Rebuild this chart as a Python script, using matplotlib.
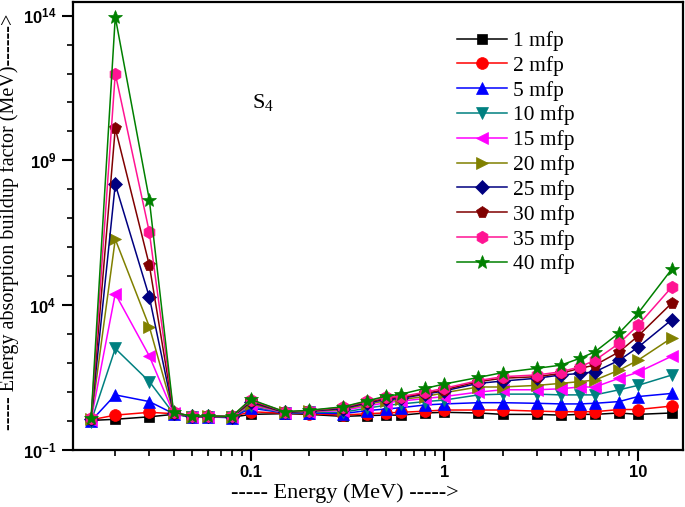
import numpy as np
import matplotlib
matplotlib.use('Agg')
import matplotlib.pyplot as plt
from matplotlib.ticker import FixedLocator, NullFormatter

# =========================
# DONNEES
# =========================

energy = [0.015, 0.02, 0.03, 0.04, 0.05, 0.06, 0.08, 0.1, 0.15, 0.2, 0.3, 0.4,
          0.5, 0.6, 0.8, 1, 1.5, 2, 3, 4, 5, 6, 8, 10, 15]

mfp_labels = ['1 mfp', '2 mfp', '5 mfp', '10 mfp', '15 mfp',
              '20 mfp', '25 mfp', '30 mfp', '35 mfp', '40 mfp']

b_1 = [1.05, 1.15, 1.4, 1.7, 1.4, 1.4, 1.35, 1.7, 1.8, 1.7, 1.45, 1.55, 1.6,
       1.6, 1.9, 2.0, 1.9, 1.7, 1.7, 1.6, 1.7, 1.7, 1.9, 1.7, 1.9]
b_2 = [1.1, 1.6, 2.0, 1.8, 1.4, 1.45, 1.4, 2.1, 1.85, 1.8, 1.6, 1.8, 1.9,
       2.0, 2.2, 2.4, 2.4, 2.4, 2.2, 2.1, 2.1, 2.1, 2.5, 2.5, 3.3]
b_5 = [1.0, 8, 4.7, 1.8, 1.35, 1.4, 1.3, 2.8, 1.9, 1.9, 1.8, 2.3, 2.6,
       2.9, 3.6, 3.9, 4.3, 4.3, 4.1, 3.9, 3.9, 4.1, 4.7, 7, 9]
b_10 = [0.95, 320, 23, 1.8, 1.35, 1.35, 1.35, 3.2, 1.9, 2.0, 2.0, 2.8, 3.5,
        3.9, 4.7, 5.3, 8, 8.5, 8.5, 8, 8, 8, 12, 17, 39]
b_15 = [1.1, 2.5e4, 175, 1.85, 1.4, 1.4, 1.4, 3.6, 1.95, 2.1, 2.3, 3.3, 4.3,
        4.9, 6, 7, 10, 12, 12, 13, 15, 15, 30, 48, 175]
b_20 = [1.15, 1.9e6, 1800, 1.9, 1.4, 1.45, 1.4, 4.0, 2.0, 2.15, 2.5, 3.8, 5.0,
        5.6, 7, 9.5, 15, 15, 17, 20, 23, 26, 57, 125, 750]
b_25 = [1.2, 1.5e8, 1.9e4, 1.9, 1.45, 1.45, 1.4, 4.5, 2.0, 2.2, 2.7, 4.2, 5.6,
        6.1, 8.5, 11, 20, 24, 30, 39, 44, 50, 125, 350, 3200]
b_30 = [1.2, 1.3e10, 2.4e5, 1.95, 1.45, 1.45, 1.45, 4.9, 2.05, 2.25, 2.9, 4.5, 6.2,
        6.6, 9, 12, 23, 30, 34, 44, 66, 85, 245, 850, 1.2e4]
b_35 = [1.25, 1e12, 3.3e6, 2.0, 1.45, 1.5, 1.45, 5.3, 2.1, 2.3, 3.0, 4.8, 6.7,
        7.0, 10, 13.5, 25, 34, 39, 50, 74, 125, 480, 2000, 4.3e4]
b_40 = [1.25, 9e13, 4.3e7, 2.0, 1.45, 1.5, 1.45, 5.6, 2.1, 2.35, 3.1, 5.0, 7.2,
        8.5, 13.5, 19, 32, 47, 66, 85, 145, 245, 1100, 5200, 1.8e5]

series = [b_1, b_2, b_5, b_10, b_15, b_20, b_25, b_30, b_35, b_40]

colors = ['#000000', '#FF0000', '#0000FF', '#008080', '#FF00FF',
          '#808000', '#000080', '#800000', '#FF1493', '#008000']
markers = ['s', 'o', '^', 'v', '<', '>', 'D', 'p', 'h', '*']
msizes = [7, 8.5, 8.5, 8.5, 8.5, 8.5, 7, 8.5, 9, 10.5]

# =========================
# FIGURE
# =========================

plt.rcParams['font.family'] = 'Liberation Serif'
plt.rcParams['mathtext.fontset'] = 'custom'
plt.rcParams['mathtext.rm'] = 'Liberation Serif'
plt.rcParams['mathtext.bf'] = 'Liberation Sans:bold'

fig = plt.figure(figsize=(6.85, 5.07), dpi=100)
ax = fig.add_axes([73 / 685, 1 - 450 / 507, 610 / 685, 448 / 507])

for vals, c, m, ms, lab in zip(series, colors, markers, msizes, mfp_labels):
    ax.plot(energy, vals, color=c, marker=m, markersize=ms, linewidth=1.1,
            markeredgewidth=0.5, markeredgecolor=c, label=lab)

ax.set_xscale('log')
ax.set_yscale('log')
ax.set_xlim(0.0121, 17.1)
ax.set_ylim(0.1, 10 ** 14.47)

# ticks axe y : majeurs tous les 5 decades, mineurs chaque decade
ax.yaxis.set_major_locator(FixedLocator([1e-1, 1e4, 1e9, 1e14]))
ax.set_yticklabels([r'$\mathbf{10^{-1}}$', r'$\mathbf{10^{4}}$',
                    r'$\mathbf{10^{9}}$', r'$\mathbf{10^{14}}$'], fontsize=12)
ax.yaxis.set_minor_locator(FixedLocator([10.0 ** k for k in range(-1, 15)]))
ax.yaxis.set_minor_formatter(NullFormatter())

ax.xaxis.set_major_locator(FixedLocator([0.1, 1, 10]))
ax.set_xticklabels(['0.1', '1', '10'], fontsize=12, fontweight='bold',
                   family='Liberation Sans')
minors = [k * 10.0 ** d for d in (-2, -1, 0, 1) for k in range(2, 10)]
ax.xaxis.set_minor_locator(FixedLocator(minors))
ax.xaxis.set_minor_formatter(NullFormatter())

ax.tick_params(which='major', direction='out', length=8, width=1.5,
               top=False, right=False, pad=4)
ax.tick_params(axis='x', which='major', pad=3)
ax.tick_params(which='minor', direction='out', length=4, width=1.2,
               top=False, right=False)
for sp in ax.spines.values():
    sp.set_linewidth(1.6)

ax.set_xlabel('----- Energy (MeV) ----->', fontsize=16)
ax.xaxis.set_label_coords(0.446, -0.075)
ax.set_ylabel('----- Energy absorption buildup factor (MeV)------>', fontsize=14.5)
ax.yaxis.set_label_coords(-0.088, 0.51)

ax.text(0.293, 0.775, r'$\mathrm{S_4}$', transform=ax.transAxes, fontsize=16,
        ha='left', va='center')

leg = ax.legend(loc='upper left', bbox_to_anchor=(457 / 685, 1 - 31 / 507),
                bbox_transform=fig.transFigure, frameon=False, fontsize=15.5,
                handlelength=2.3, handletextpad=0.3, labelspacing=0.22,
                borderpad=0, borderaxespad=0, numpoints=1)

plt.savefig('out.png', dpi=100)
